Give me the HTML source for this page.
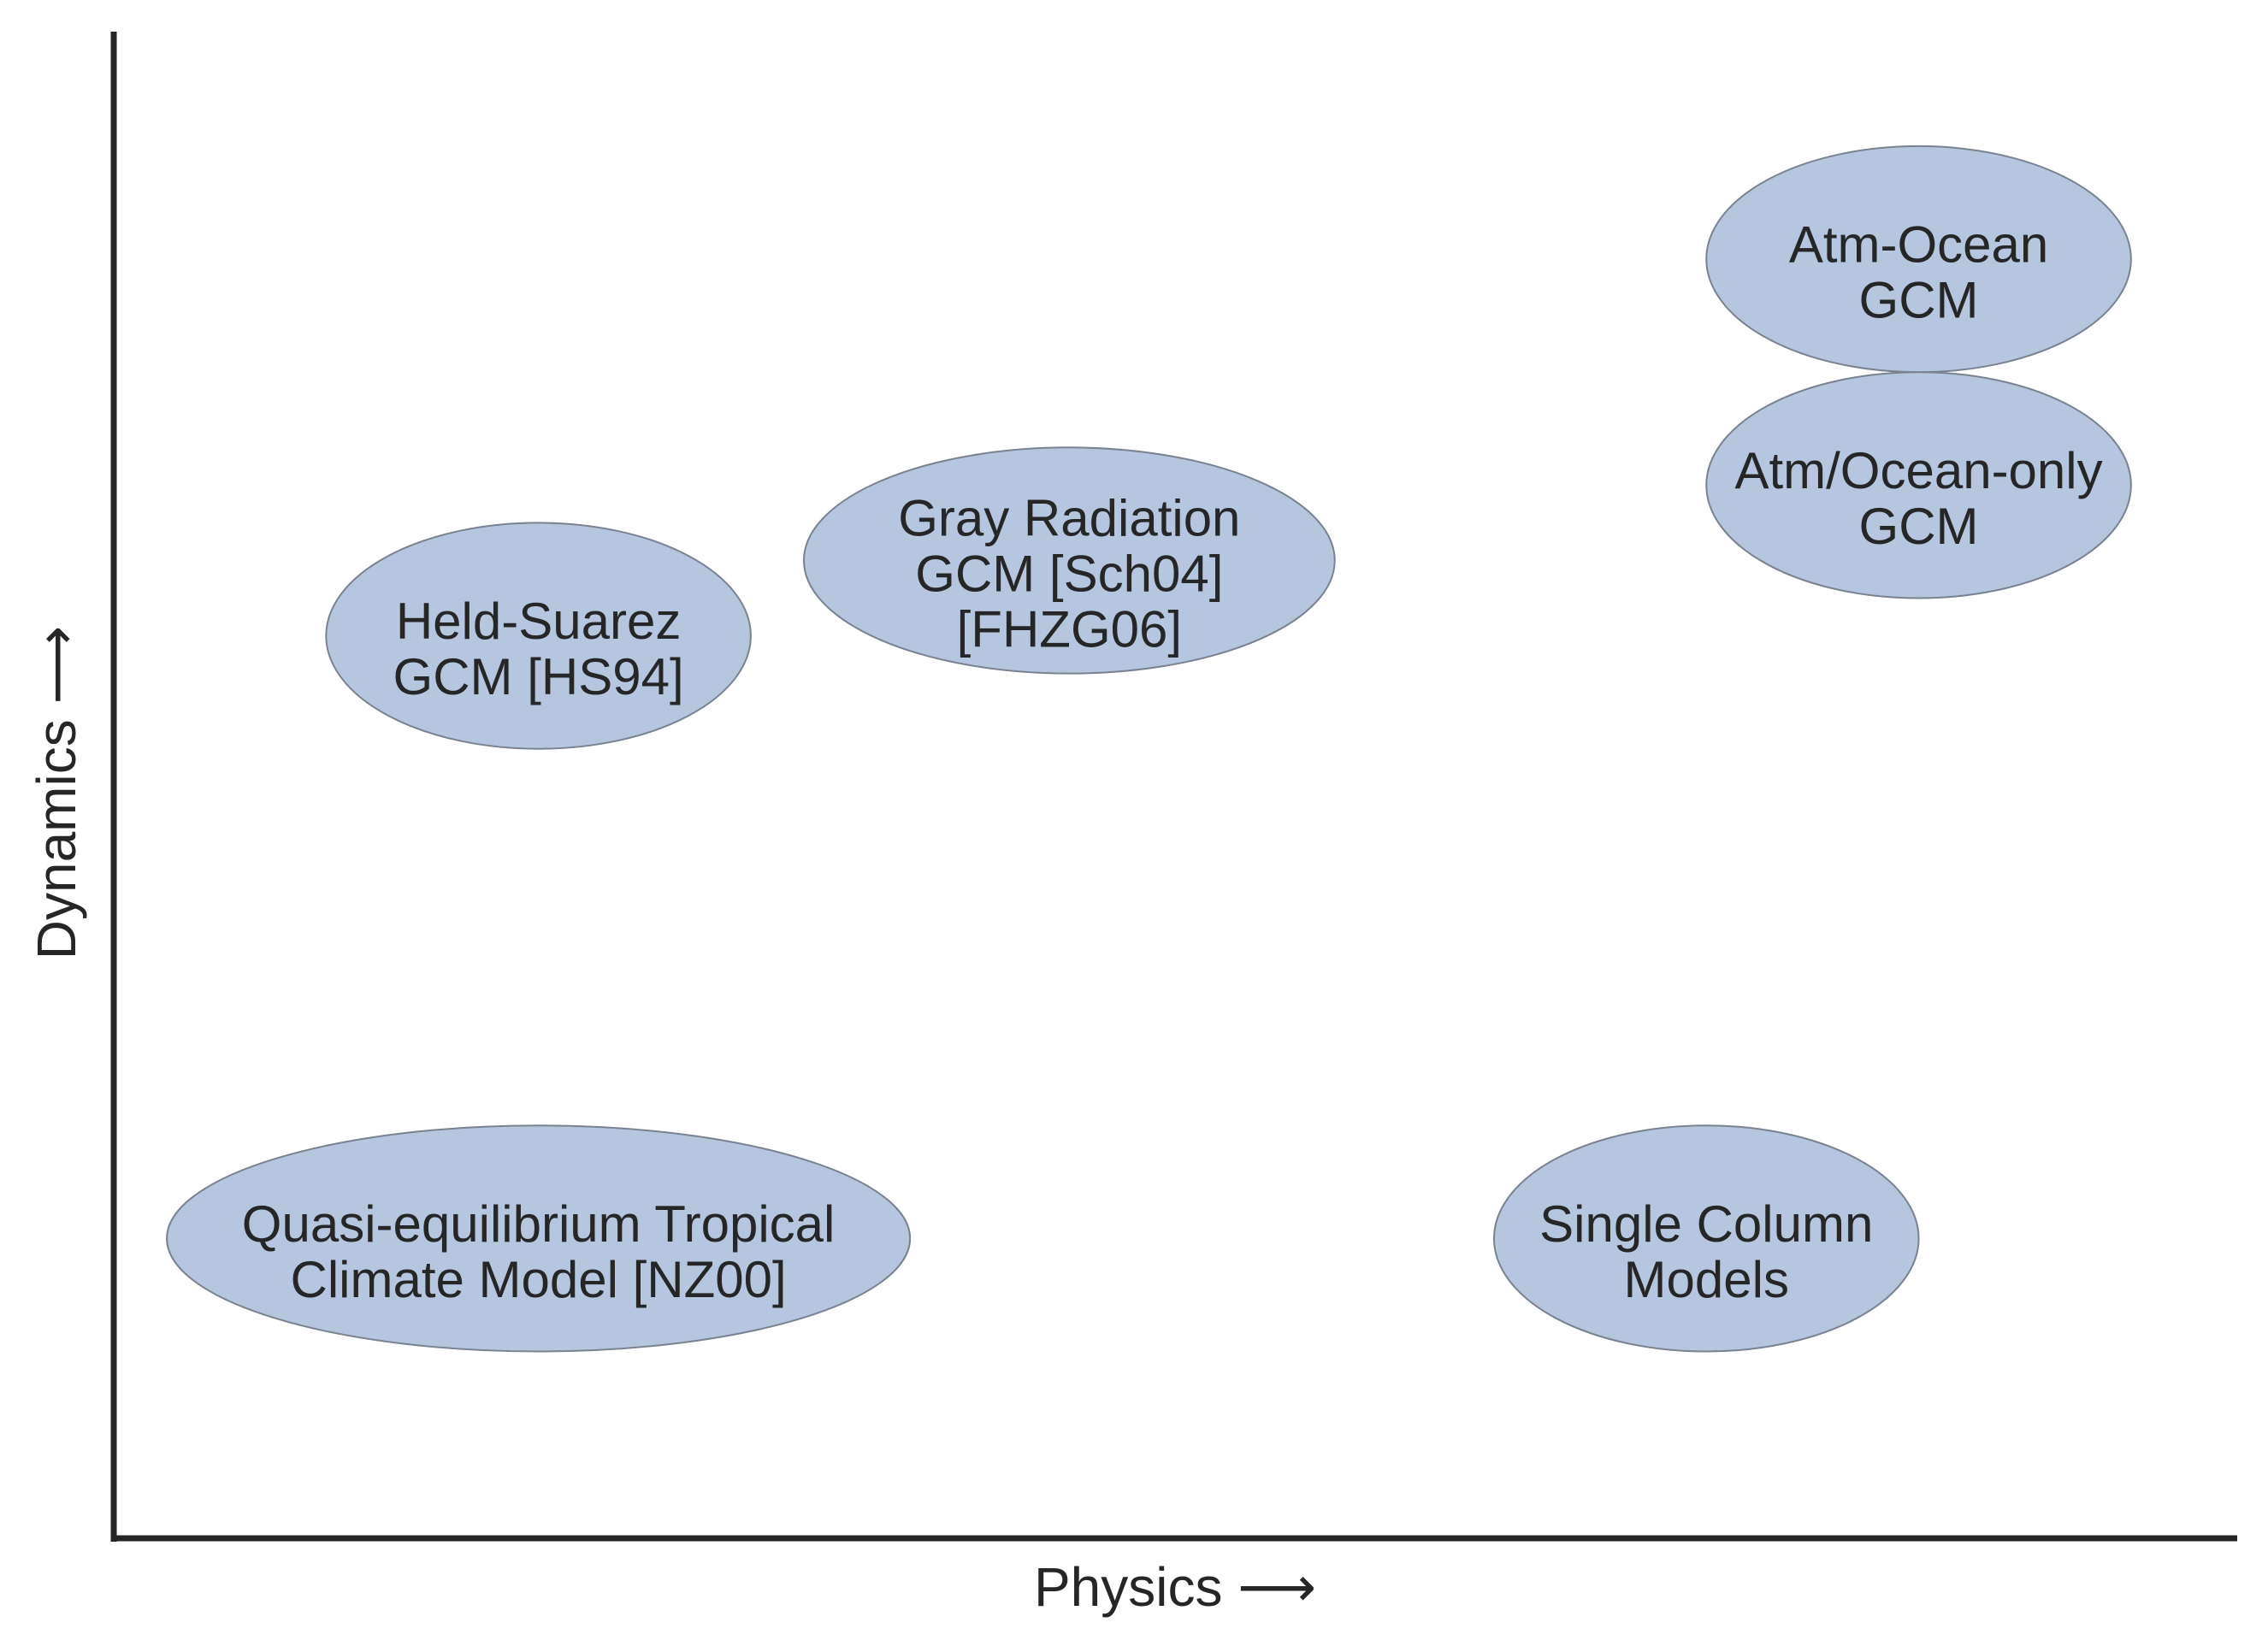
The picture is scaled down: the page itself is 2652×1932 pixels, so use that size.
<!DOCTYPE html>
<html><head><meta charset="utf-8"><style>
html,body{margin:0;padding:0;background:#fff}
svg{display:block}
text{font-family:"Liberation Sans",sans-serif;fill:#262626}
</style></head><body>
<svg id="chart" width="2652" height="1932" viewBox="0 0 2652 1932">
<g id="marks"></g>
<line x1="133" y1="37" x2="133" y2="1803" stroke="#262626" stroke-width="7"/>
<line x1="130" y1="1799" x2="2616" y2="1799" stroke="#262626" stroke-width="7"/>
<text x="1374" y="1878" font-size="64" text-anchor="middle">Physics ⟶</text>
<text transform="translate(88,927) rotate(-90)" font-size="64" text-anchor="middle">Dynamics ⟶</text>
</svg>
<script>
const categories = ["Quasi-equilibrium Tropical|Climate Model [NZ00]","Held-Suarez|GCM [HS94]","Gray Radiation|GCM [Sch04]|[FHZG06]","Atm-Ocean|GCM","Atm/Ocean-only|GCM","Single Column|Models"];
const physicsValues = [0.200, 0.200, 0.450, 0.850, 0.850, 0.750];
const dynamicsValues = [0.199, 0.599, 0.649, 0.849, 0.699, 0.199];
const widthValues = [0.35, 0.20, 0.25, 0.20, 0.20, 0.20];
const heightValue = 0.15;
const X0 = 133, X1 = 2616, Y0 = 1799, Y1 = 37;
function xScale(v){ return X0 + v*(X1-X0); }
function yScale(v){ return Y0 - v*(Y0-Y1); }
const g = document.getElementById('marks');
const NS = 'http://www.w3.org/2000/svg';
categories.forEach((c,i)=>{
  const cx = xScale(physicsValues[i]), cy = yScale(dynamicsValues[i]);
  const e = document.createElementNS(NS,'ellipse');
  e.setAttribute('cx',cx); e.setAttribute('cy',cy);
  e.setAttribute('rx',widthValues[i]/2*(X1-X0)); e.setAttribute('ry',heightValue/2*(Y0-Y1));
  e.setAttribute('fill','#b5c6de'); e.setAttribute('stroke','#7a8290'); e.setAttribute('stroke-width','2');
  
  
  g.appendChild(e);
  const lines = c.split('|');
  const lh = 65;
  const t = document.createElementNS(NS,'text');
  t.setAttribute('text-anchor','middle'); t.setAttribute('font-size','60');
  
  
  lines.forEach((l,j)=>{
    const s = document.createElementNS(NS,'tspan');
    s.setAttribute('x',cx);
    s.setAttribute('y', cy + (j-(lines.length-1)/2)*lh + 36);
    s.textContent = l;
    t.appendChild(s);
  });
  g.appendChild(t);
});
</script>
</body></html>
